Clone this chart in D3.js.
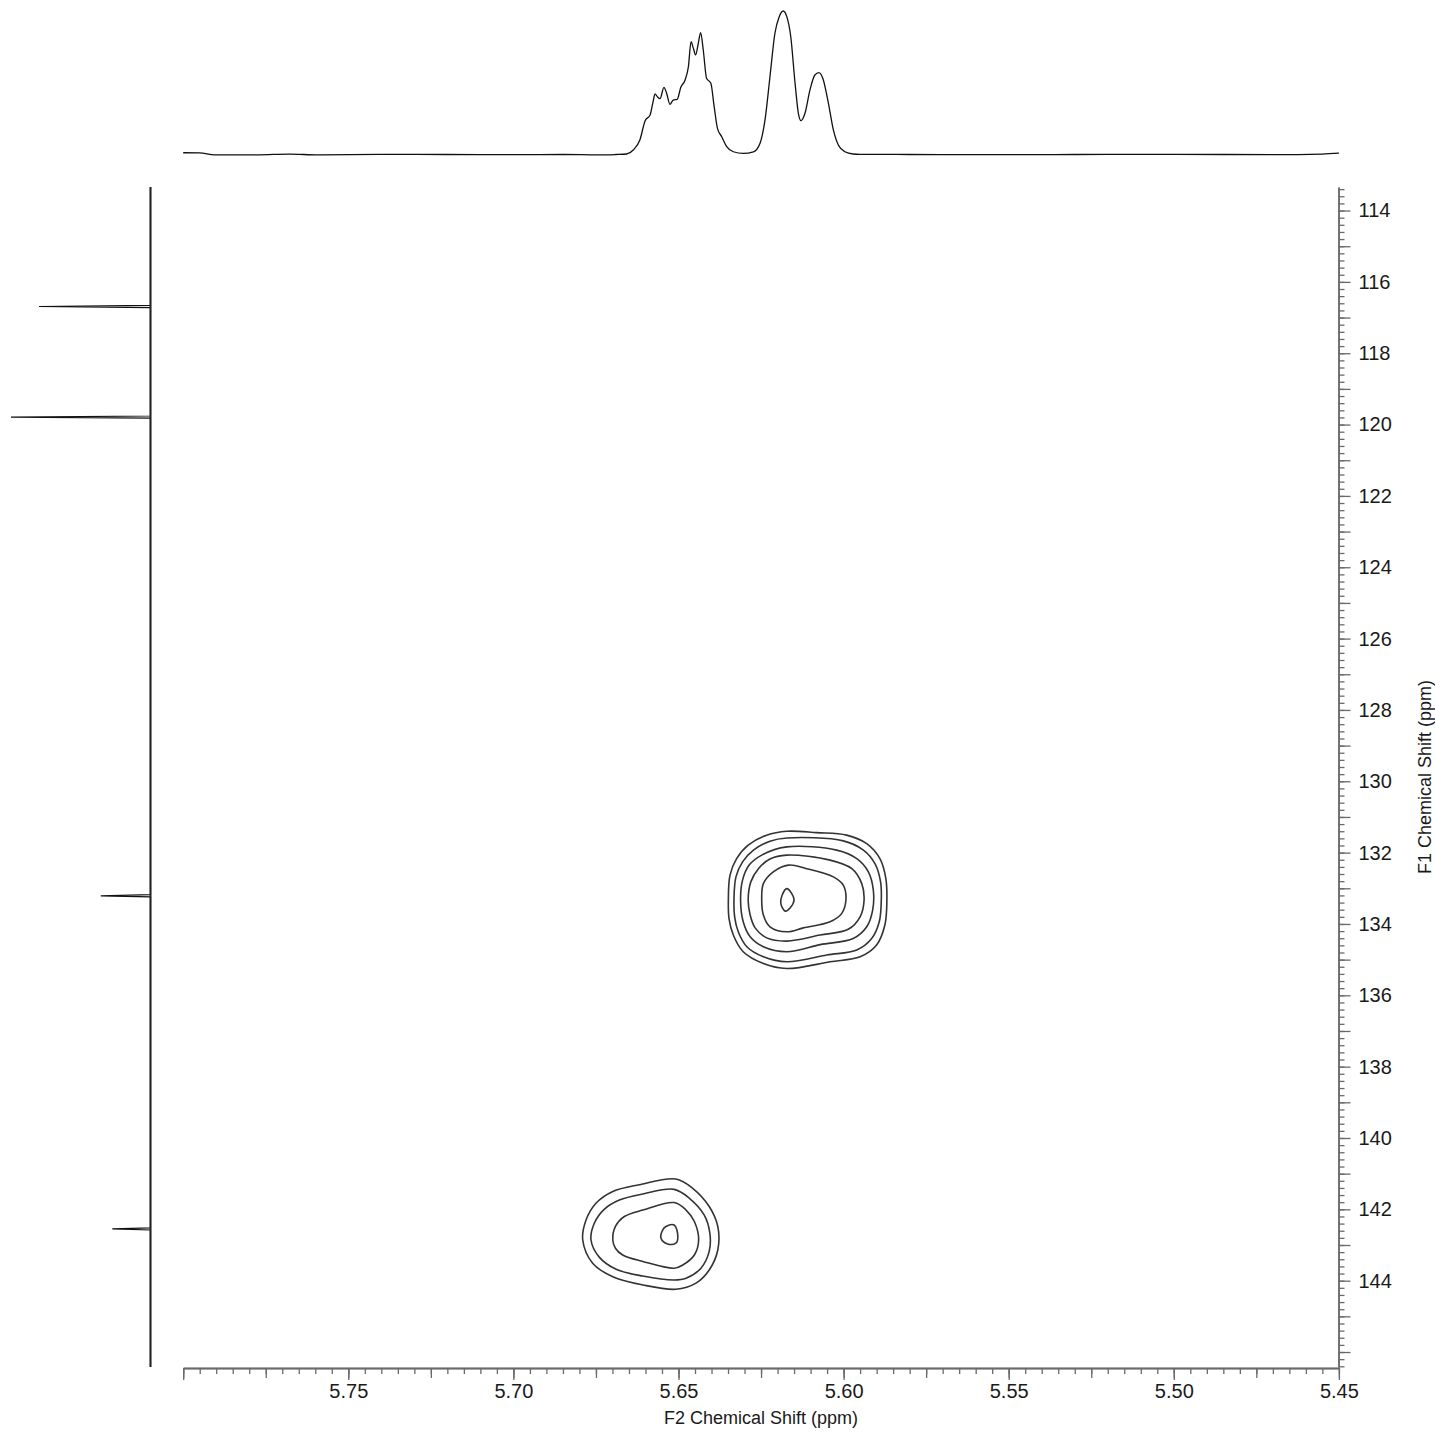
<!DOCTYPE html>
<html>
<head>
<meta charset="utf-8">
<script src="https://cdn.jsdelivr.net/npm/d3@7"></script>
<style>
body { margin: 0; background: #fff; }
svg { display: block; }
</style>
</head>
<body>
<svg id="chart" width="1435" height="1433"></svg>
<script>
// ---- data ----
// 1H projection on top: [F2 ppm, intensity]
const topProj = [
  [5.8000, 1.2], [5.7950, 1.1], [5.7905, -0.3], [5.7770, -0.2], [5.7680, 0.3], [5.7590, -0.3],
  [5.7400, 0.1], [5.7200, 0.0], [5.7000, -0.1], [5.6850, 0.0], [5.6740, -0.3], [5.6690, 0.0],
  [5.6657, 0.35], [5.6637, 3.1], [5.6617, 10.0], [5.6601, 23.4], [5.6586, 27.3], [5.6578, 35.4],
  [5.6571, 41.9], [5.6564, 40.0], [5.6556, 38.6], [5.6544, 46.5], [5.6536, 42.4], [5.6526, 34.7],
  [5.6516, 37.7], [5.6504, 38.2], [5.6493, 46.5], [5.6480, 51.6], [5.6470, 60.8], [5.6462, 78.1],
  [5.6455, 73.5], [5.6448, 68.9], [5.6440, 77.0], [5.6433, 84.3], [5.6425, 72.3], [5.6415, 52.7],
  [5.6402, 49.3], [5.6392, 33.1], [5.6382, 18.1], [5.6369, 12.3], [5.6354, 5.4], [5.6334, 1.9],
  [5.6304, 0.8], [5.6273, 1.9], [5.6253, 7.8], [5.6238, 23.9], [5.6223, 53.8], [5.6208, 83.9],
  [5.6195, 95.4], [5.6183, 99.3], [5.6172, 95.4], [5.6160, 81.5], [5.6147, 49.3], [5.6137, 28.5],
  [5.6129, 23.4], [5.6117, 28.5], [5.6102, 44.6], [5.6087, 55.0], [5.6075, 56.6], [5.6063, 52.7],
  [5.6046, 35.4], [5.6031, 17.0], [5.6016, 6.6], [5.5996, 1.9], [5.5971, 0.35], [5.5950, 0.1],
  [5.5800, 0.0], [5.5600, -0.1], [5.5300, 0.0], [5.5000, 0.1], [5.4700, -0.1], [5.4550, 0.3], [5.4500, 0.9]
];

// 13C projection on the left: peaks [F1 ppm, intensity]
const leftPeaks = [
  [116.69, 79.4],
  [119.79, 99.3],
  [133.21, 35.4],
  [142.55, 27.2]
];

// contour levels of the cross peak near 5.617 / 133.3 ppm, outermost first: [F2, F1]
const peakA = [
  [[5.6349,133.33],[5.6344,132.63],[5.6324,132.17],[5.6289,131.79],[5.6233,131.51],[5.6172,131.40],
   [5.6081,131.44],[5.5991,131.51],[5.5930,131.75],[5.5890,132.17],[5.5872,132.73],[5.5869,133.38],
   [5.5875,134.03],[5.5900,134.59],[5.5950,134.92],[5.6041,135.06],[5.6172,135.25],[5.6243,135.11],
   [5.6304,134.78],[5.6334,134.31],[5.6347,133.85]],
  [[5.6332,133.32],[5.6326,132.68],[5.6306,132.26],[5.6273,131.93],[5.6223,131.68],[5.6172,131.59],
   [5.6001,131.67],[5.5940,131.93],[5.5905,132.31],[5.5888,132.82],[5.5886,133.38],[5.5892,133.94],
   [5.5915,134.41],[5.5960,134.73],[5.6051,134.87],[5.6172,135.06],[5.6243,134.92],[5.6293,134.64],
   [5.6319,134.22],[5.6330,133.80]],
  [[5.6312,133.33],[5.6306,132.77],[5.6286,132.35],[5.6248,132.07],[5.6172,131.84],[5.6021,131.93],
   [5.5960,132.17],[5.5925,132.54],[5.5910,133.05],[5.5912,133.61],[5.5930,134.08],[5.5971,134.41],
   [5.6071,134.58],[5.6172,134.78],[5.6243,134.64],[5.6283,134.36],[5.6304,133.94]],
  [[5.6289,133.33],[5.6281,132.82],[5.6258,132.45],[5.6223,132.18],[5.6172,132.07],[5.6041,132.21],
   [5.5975,132.45],[5.5945,132.87],[5.5938,133.33],[5.5950,133.80],[5.5986,134.15],[5.6071,134.31],
   [5.6172,134.48],[5.6233,134.39],[5.6268,134.11],[5.6283,133.75]],
  [[5.6248,133.33],[5.6243,132.87],[5.6213,132.54],[5.6167,132.35],[5.6112,132.45],[5.6031,132.68],
   [5.6001,132.91],[5.5993,133.33],[5.6006,133.71],[5.6041,133.94],[5.6122,134.11],[5.6172,134.22],
   [5.6223,134.08],[5.6243,133.75]],
  [[5.6172,133.01],[5.6157,133.15],[5.6150,133.33],[5.6162,133.55],[5.6177,133.64],[5.6190,133.43],
   [5.6186,133.19]]
];

// contour levels of the cross peak near 5.652 / 142.7 ppm
const peakB = [
  [[5.6790,142.86],[5.6780,142.30],[5.6750,141.83],[5.6699,141.50],[5.6619,141.31],[5.6508,141.15],
   [5.6457,141.41],[5.6407,141.92],[5.6381,142.48],[5.6381,143.14],[5.6407,143.70],[5.6447,144.07],
   [5.6508,144.24],[5.6608,144.12],[5.6699,143.89],[5.6760,143.51]],
  [[5.6765,142.86],[5.6755,142.39],[5.6725,142.00],[5.6679,141.74],[5.6608,141.57],[5.6513,141.44],
   [5.6467,141.69],[5.6422,142.16],[5.6405,142.67],[5.6407,143.18],[5.6432,143.65],[5.6477,143.93],
   [5.6513,143.98],[5.6608,143.87],[5.6689,143.68],[5.6740,143.34]],
  [[5.6699,142.86],[5.6691,142.48],[5.6664,142.20],[5.6608,142.02],[5.6513,141.81],[5.6477,142.02],
   [5.6452,142.34],[5.6439,142.86],[5.6452,143.28],[5.6487,143.56],[5.6513,143.65],[5.6608,143.46],
   [5.6669,143.28],[5.6691,143.09]],
  [[5.6538,142.48],[5.6513,142.44],[5.6502,142.76],[5.6508,142.95],[5.6533,142.97],[5.6553,142.81],
   [5.6548,142.58]]
];

const f2Labels = [5.75, 5.70, 5.65, 5.60, 5.55, 5.50, 5.45];
const f1Labels = [114, 116, 118, 120, 122, 124, 126, 128, 130, 132, 134, 136, 138, 140, 142, 144];

// ---- drawing ----
const svg = d3.select('#chart');
const FONT = 'Liberation Sans, Arial, sans-serif';
const AXIS_COLOR = '#6a6a6a';

const x = d3.scaleLinear().domain([5.80, 5.45]).range([183.2, 1338.9]);
const y = d3.scaleLinear().domain([113.34, 146.42]).range([187, 1367]);
const topY = d3.scaleLinear().domain([0, 100]).range([154.5, 10]);
const leftX = d3.scaleLinear().domain([0, 100]).range([150.5, 10]);

// top 1D trace
svg.append('path')
  .datum(topProj)
  .attr('d', d3.line().x(d => x(d[0])).y(d => topY(d[1])).curve(d3.curveMonotoneX))
  .attr('fill', 'none')
  .attr('stroke', '#111')
  .attr('stroke-width', 1.3);

// left 1D trace: baseline with sharp peaks
const leftPts = [[113.34, 0]];
leftPeaks.forEach(p => {
  leftPts.push([p[0] - 0.03, 0], [p[0], p[1]], [p[0] + 0.03, 0]);
});
leftPts.push([146.42, 0]);
svg.append('path')
  .datum(leftPts)
  .attr('d', d3.line().x(d => leftX(d[1])).y(d => y(d[0])))
  .attr('fill', 'none')
  .attr('stroke', '#111')
  .attr('stroke-width', 1.2);
// baseline looks heavier (noise)
svg.append('line')
  .attr('x1', leftX(0)).attr('x2', leftX(0))
  .attr('y1', y(113.34)).attr('y2', y(146.42))
  .attr('stroke', '#222').attr('stroke-width', 2);

// contours
const cLine = d3.line().x(d => x(d[0])).y(d => y(d[1])).curve(d3.curveCatmullRomClosed.alpha(0.5));
svg.append('g').selectAll('path')
  .data(peakA.concat(peakB))
  .join('path')
  .attr('d', cLine)
  .attr('fill', 'none')
  .attr('stroke', '#333')
  .attr('stroke-width', 1.6);

// bottom axis: minor / medium / major ticks
function styleAxis(g) {
  g.selectAll('.domain').attr('stroke', AXIS_COLOR).attr('stroke-width', 1.5);
  g.selectAll('.tick line').attr('stroke', AXIS_COLOR).attr('stroke-width', 1.3);
  g.selectAll('text').attr('fill', '#1a1a1a').style('font-family', FONT).style('font-size', '20px');
}
const minorX = d3.range(0, 71).map(i => +(5.45 + i * 0.005).toFixed(3));
const midX = d3.range(0, 15).map(i => +(5.45 + i * 0.025).toFixed(3));
const majorX = d3.range(0, 8).map(i => +(5.45 + i * 0.05).toFixed(2));

const xg = svg.append('g').attr('transform', 'translate(0,1368)');
xg.append('g').call(d3.axisBottom(x).tickValues(minorX).tickSize(6).tickSizeOuter(0).tickFormat('')).call(styleAxis);
xg.append('g').call(d3.axisBottom(x).tickValues(midX).tickSize(10).tickSizeOuter(0).tickFormat('')).call(styleAxis);
xg.append('g').call(d3.axisBottom(x).tickValues(majorX).tickSize(12).tickSizeOuter(0).tickPadding(4)
  .tickFormat(d => f2Labels.some(v => Math.abs(v - d) < 1e-6) ? d3.format('.2f')(d) : '')).call(styleAxis);

// right axis
const minorY = d3.range(0, 166).map(i => +(113.4 + i * 0.2).toFixed(1));
const midY = d3.range(114, 147, 1);
const yg = svg.append('g').attr('transform', 'translate(1338.5,0)');
yg.append('g').call(d3.axisRight(y).tickValues(minorY).tickSize(6).tickSizeOuter(0).tickFormat('')).call(styleAxis);
yg.append('g').call(d3.axisRight(y).tickValues(midY).tickSize(12).tickSizeOuter(0).tickPadding(8)
  .tickFormat(d => f1Labels.includes(d) ? String(d) : '')).call(styleAxis);

// axis titles
svg.append('text')
  .attr('x', 761).attr('y', 1424)
  .attr('text-anchor', 'middle')
  .style('font-family', FONT).style('font-size', '18px').attr('fill', '#1a1a1a')
  .text('F2 Chemical Shift (ppm)');
svg.append('text')
  .attr('transform', 'translate(1431,777) rotate(-90)')
  .attr('text-anchor', 'middle')
  .style('font-family', FONT).style('font-size', '18px').attr('fill', '#1a1a1a')
  .text('F1 Chemical Shift (ppm)');
</script>
</body>
</html>
